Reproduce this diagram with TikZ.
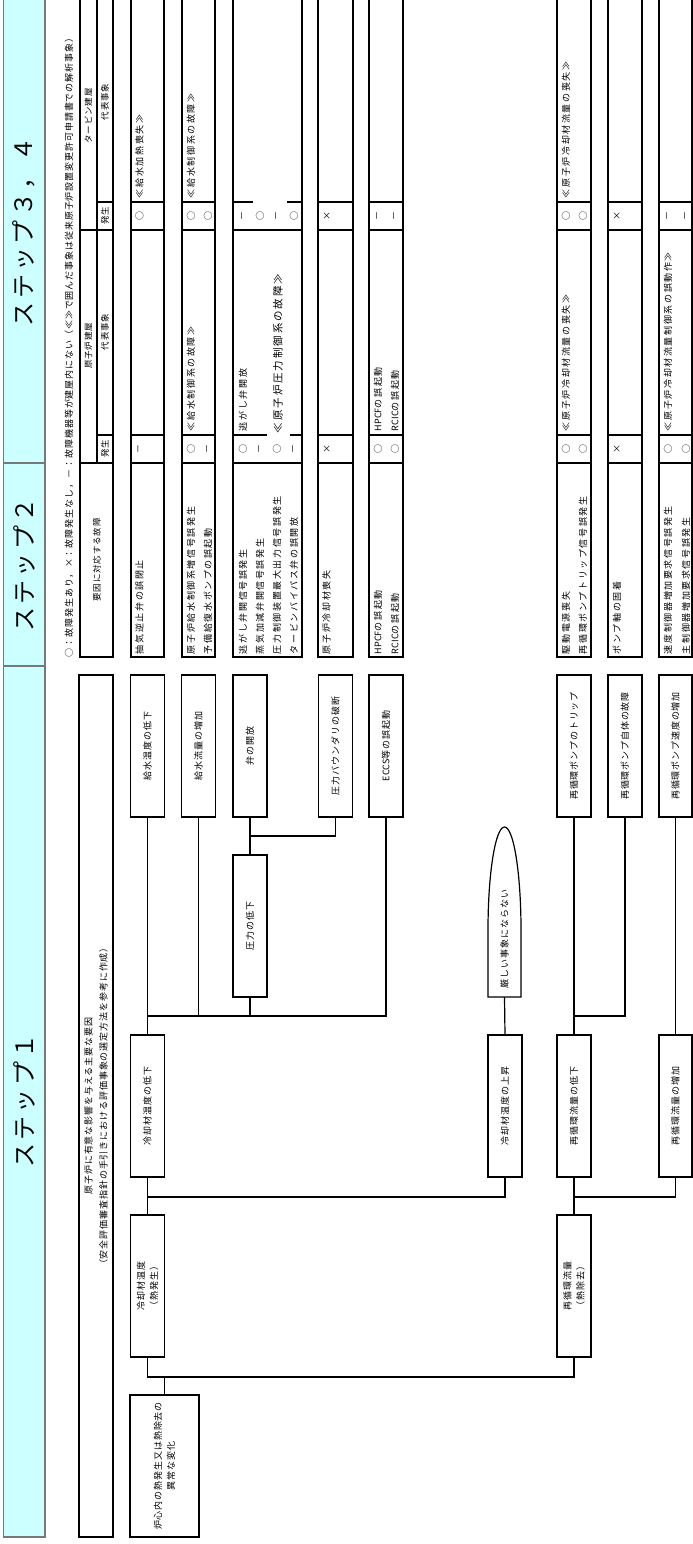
\documentclass[tikz,border=0pt]{standalone}
\usepackage{fontspec}
\setmainfont{Noto Sans CJK JP}
\newfontfamily\titlefont[LetterSpace=14]{Noto Sans CJK JP}
\newfontfamily\cellfont[LetterSpace=18]{Noto Sans CJK JP}
\newfontfamily\boxfont[LetterSpace=10]{Noto Sans CJK JP}
\newcommand\latin[1]{{\addfontfeature{LetterSpace=0}#1}}
\usetikzlibrary{positioning,calc}
\definecolor{bandcyan}{RGB}{204,255,255}
\definecolor{bandgray}{RGB}{120,120,120}

\begin{document}
\begin{tikzpicture}[x=1pt,y=-1pt,line width=1.2pt,
    every node/.style={inner sep=0pt,outer sep=0pt},
    evbox/.style={draw,rotate=90,minimum width=142pt,minimum height=34pt,align=center,font=\boxfont\fontsize{9}{13}\selectfont},
    celltext/.style={rotate=90,anchor=west,font=\cellfont\fontsize{9}{11}\selectfont},
    hitmark/.style={rotate=90,font=\cellfont\fontsize{9}{11}\selectfont},
    hdrtext/.style={rotate=90,font=\boxfont\fontsize{8.5}{11}\selectfont},
    steptitle/.style={rotate=90,font=\titlefont\fontsize{24}{28}\selectfont}]
  \useasboundingbox (0,0) rectangle (693,1544);
  \clip (0,0) rectangle (693,1544);

  % step band
  \draw[bandgray,fill=bandcyan,line width=1.5pt] (3.5,-5) rectangle (45,1537);
  \draw[bandgray,line width=1.5pt] (3.5,463) -- (45,463) (3.5,666) -- (45,666);
  \node[steptitle] (step34) at (24,232) {ステップ３，４};
  \node[steptitle] (step2) at (24,565) {ステップ２};
  \node[steptitle] (step1) at (24,1101) {ステップ１};

  % legend and header table
  \node[celltext,font=\boxfont\fontsize{9}{11}\selectfont] (legend) at (69,657) {○：故障発生あり，\,×：故障発生なし，\,－：故障機器等が建屋内にない（≪≫で囲んだ事象は従来原子炉設置変更許可申請書での解析事象）};
  \draw (80,-5) rectangle (113,657);
  \draw (80,463) -- (113,463) (80,230) -- (113,230) (97,-5) -- (97,463)
        (97,435) -- (113,435) (97,202) -- (113,202);
  \node[hdrtext] (hdrR) at (88.5,346) {原子炉建屋};
  \node[hdrtext] (hdrRrep) at (105,332) {代表事象};
  \node[hdrtext] (hdrRhit) at (105,449) {発生};
  \node[hdrtext] (hdrT) at (88.5,116) {タービン建屋};
  \node[hdrtext] (hdrTrep) at (105,102) {代表事象};
  \node[hdrtext] (hdrThit) at (105,216) {発生};
  \node[hdrtext] (hdrF) at (97,560) {要因に対応する故障};
  \draw (79,675) rectangle (113,1537);
  \node[rotate=90,align=center,font=\boxfont\fontsize{9}{15}\selectfont] (s1head) at (96,1106)
    {原子炉に有意な影響を与える主要な要因\\（安全評価審査指針の手引きにおける評価事象の選定方法を参考に作成）};

  % table rows
  \foreach \xl/\xr in {131/164,182/215,318/353,369/403,557/591,608/642,659/692}{
    \draw (\xl,-5) rectangle (\xr,657);
    \draw (\xl,202) -- (\xr,202) (\xl,230) -- (\xr,230) (\xl,435) -- (\xr,435) (\xl,463) -- (\xr,463);
  }
  \draw (233,-5) -- (233,657) -- (302,657) -- (302,-5);
  \draw (233,463) -- (302,463) (233,230) -- (302,230);
  \draw (233,202) -- (253,202) (287,202) -- (302,202);
  \draw (233,435) -- (267,435) (290,435) -- (302,435);

  % row 1
  \node[celltext] (f1a) at (139.5,654) {抽気逆止弁の誤閉止};
  \node[hitmark] (rh1a) at (139.5,449) {－};
  \node[hitmark] (th1a) at (139.5,216) {○};
  \node[celltext] (t1a) at (139.5,198) {≪給水加熱喪失≫};
  % row 2
  \node[celltext] (f2a) at (191,654) {原子炉給水制御系増信号誤発生};
  \node[celltext] (f2b) at (208,654) {予備給復水ポンプの誤起動};
  \node[hitmark] (rh2a) at (191,449) {○};
  \node[hitmark] (rh2b) at (208,449) {－};
  \node[celltext] (r2a) at (191,431) {≪給水制御系の故障≫};
  \node[hitmark] (th2a) at (191,216) {○};
  \node[hitmark] (th2b) at (208,216) {○};
  \node[celltext] (t2a) at (191,198) {≪給水制御系の故障≫};
  % row 3
  \node[celltext] (f3a) at (243,654) {逃がし弁開信号誤発生};
  \node[celltext] (f3b) at (260,654) {蒸気加減弁開信号誤発生};
  \node[celltext] (f3c) at (277,654) {圧力制御装置最大出力信号誤発生};
  \node[celltext] (f3d) at (294,654) {タービンバイパス弁の誤開放};
  \node[hitmark] (rh3a) at (243,449) {○};
  \node[hitmark] (rh3b) at (260,449) {－};
  \node[hitmark] (rh3c) at (277,449) {○};
  \node[hitmark] (rh3d) at (294,449) {－};
  \node[celltext] (r3a) at (243,431) {逃がし弁開放};
  \node[celltext,font=\cellfont\fontsize{10.5}{12}\selectfont] (r3c) at (278,433) {≪原子炉圧力制御系の故障≫};
  \node[hitmark] (th3a) at (243,216) {－};
  \node[hitmark] (th3b) at (260,216) {○};
  \node[hitmark] (th3c) at (277,216) {－};
  \node[hitmark] (th3d) at (294,216) {○};
  % row 4
  \node[celltext] (f4a) at (326.5,654) {原子炉冷却材喪失};
  \node[hitmark] (rh4a) at (327,449) {×};
  \node[hitmark] (th4a) at (327,216) {×};
  % row 5
  \node[celltext] (f5a) at (378,654) {\latin{HPCF}の誤起動};
  \node[celltext] (f5b) at (395,654) {\latin{RCIC}の誤起動};
  \node[hitmark] (rh5a) at (378,449) {○};
  \node[hitmark] (rh5b) at (395,449) {○};
  \node[celltext] (r5a) at (378,431) {\latin{HPCF}の誤起動};
  \node[celltext] (r5b) at (395,431) {\latin{RCIC}の誤起動};
  \node[hitmark] (th5a) at (378,216) {－};
  \node[hitmark] (th5b) at (395,216) {－};
  % row 6
  \node[celltext] (f6a) at (566,654) {駆動電源喪失};
  \node[celltext] (f6b) at (583,654) {再循環ポンプトリップ信号誤発生};
  \node[hitmark] (rh6a) at (566,449) {○};
  \node[hitmark] (rh6b) at (583,449) {○};
  \node[celltext] (r6a) at (566,431) {≪原子炉冷却材流量の喪失≫};
  \node[hitmark] (th6a) at (566,216) {○};
  \node[hitmark] (th6b) at (583,216) {○};
  \node[celltext] (t6a) at (566,198) {≪原子炉冷却材流量の喪失≫};
  % row 7
  \node[celltext] (f7a) at (617,654) {ポンプ軸の固着};
  \node[hitmark] (rh7a) at (617,449) {×};
  \node[hitmark] (th7a) at (617,216) {×};
  % row 8
  \node[celltext] (f8a) at (668,654) {速度制御器増加要求信号誤発生};
  \node[celltext] (f8b) at (686,654) {主制御器増加要求信号誤発生};
  \node[hitmark] (rh8a) at (668,449) {○};
  \node[hitmark] (rh8b) at (686,449) {○};
  \node[celltext] (r8a) at (668,431) {≪原子炉冷却材流量制御系の誤動作≫};
  \node[hitmark] (th8a) at (668,216) {－};
  \node[hitmark] (th8b) at (686,216) {－};

  % step 1 tree
  \node[evbox] (fwtemp) at (147.5,746) {給水温度の低下};
  \node[evbox] (fwflow) at (198.5,746) {給水流量の増加};
  \node[evbox] (valve) at (250,746) {弁の開放};
  \node[evbox] (brk) at (335.5,746) {圧力バウンダリの破断};
  \node[evbox] (eccs) at (386,746) {\latin{ECCS}等の誤起動};
  \node[evbox] (ptrip) at (574,746) {再循環ポンプのトリップ};
  \node[evbox] (pfail) at (625,746) {再循環ポンプ自体の故障};
  \node[evbox,minimum height=33pt] (pspeed) at (675.5,746) {再循環ポンプ速度の増加};
  \node[evbox] (presdown) at (250,926) {圧力の低下};

  \draw (488,997) -- (488,930) .. controls (488,873) and (495.4,827) .. (504.5,827)
        .. controls (513.6,827) and (521,873) .. (521,930) -- (521,997) -- cycle;
  \coordinate (mildbot) at (504.5,997);
  \node[rotate=90,font=\boxfont\fontsize{9}{11}\selectfont] (mild) at (504.5,939) {厳しい事象にならない};

  \node[evbox] (cooldown) at (147.5,1106) {冷却材温度の低下};
  \node[evbox] (coolup) at (505,1106) {冷却材温度の上昇};
  \node[evbox] (recdown) at (574,1106) {再循環流量の低下};
  \node[evbox,minimum height=33pt] (recup) at (675.5,1106) {再循環流量の増加};
  \node[evbox] (cooltemp) at (147.5,1286) {冷却材温度\\（熱発生）};
  \node[evbox] (recflow) at (574,1286) {再循環流量\\（熱除去）};
  \node[evbox,minimum height=69pt] (root) at (164.5,1466) {炉心内の熱発生又は熱除去の\\異常な変化};

  \coordinate (junA) at (147.5,1016);
  \coordinate (junB) at (250,836);
  \coordinate (junC) at (574,1016);
  \coordinate (junD) at (147.5,1197);
  \coordinate (junE) at (574,1197);
  \coordinate (junF) at (164.5,1377);

  \draw (fwtemp.west) -- (cooldown.east);
  \draw (fwflow.west) |- (junA);
  \draw (presdown.west) |- (junA);
  \draw (eccs.west) |- (junA);
  \draw (valve.west) -- (presdown.east);
  \draw (brk.west) |- (junB);
  \draw (mildbot) -- (coolup.east);
  \draw (ptrip.west) -- (recdown.east);
  \draw (pfail.west) |- (junC);
  \draw (pspeed.west) -- (recup.east);
  \draw (cooldown.west) -- (cooltemp.east);
  \draw (coolup.west) |- (junD);
  \draw (recdown.west) -- (recflow.east);
  \draw (recup.west) |- (junE);
  \draw (cooltemp.west) |- (junF) -- (root.east);
  \draw (recflow.west) |- (junF);
\end{tikzpicture}
\end{document}
